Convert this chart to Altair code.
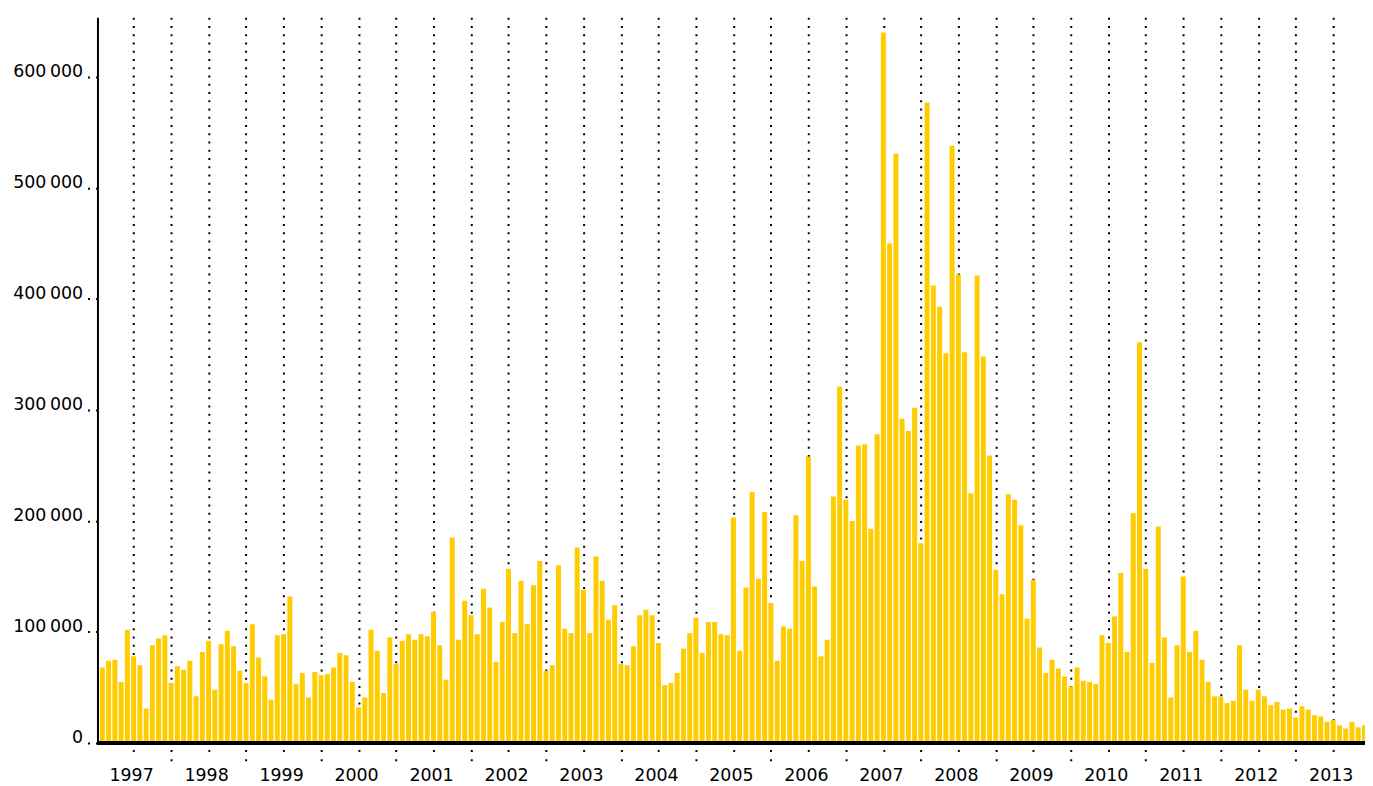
import altair as alt
import pandas as pd

# Monthly values in thousands (first bar = Feb 1997, last = Dec 2013)
first_month_1997 = 2
v1997 = [68, 74, 75, 55, 102, 78, 70, 31, 88, 94, 97]
v1998 = [54, 69, 66, 74, 42, 82, 92, 48, 89, 101, 87, 65]
v1999 = [54, 107, 77, 60, 39, 97, 98, 132, 53, 63, 41, 64]
v2000 = [61, 62, 68, 81, 79, 55, 32, 41, 102, 83, 45, 95]
v2001 = [71, 92, 98, 93, 98, 96, 118, 88, 57, 185, 93, 128]
v2002 = [115, 98, 139, 122, 73, 109, 157, 99, 146, 107, 142, 164]
v2003 = [65, 70, 160, 103, 99, 176, 138, 99, 168, 146, 111, 124]
v2004 = [71, 70, 87, 115, 120, 115, 90, 52, 54, 63, 85, 99]
v2005 = [113, 81, 109, 109, 98, 97, 203, 83, 140, 226, 148, 208]
v2006 = [126, 74, 105, 103, 205, 164, 258, 141, 78, 93, 222, 321]
v2007 = [219, 200, 268, 269, 193, 278, 640, 450, 531, 292, 281, 302]
v2008 = [180, 577, 412, 393, 351, 538, 422, 352, 225, 421, 348, 259]
v2009 = [156, 134, 224, 219, 196, 112, 147, 86, 63, 75, 67, 60]
v2010 = [51, 68, 56, 55, 53, 97, 90, 114, 153, 82, 207, 361]
v2011 = [157, 72, 195, 95, 41, 88, 150, 82, 101, 75, 55, 42]
v2012 = [42, 36, 38, 88, 48, 38, 48, 42, 34, 37, 30, 31]
v2013 = [23, 33, 30, 25, 24, 19, 21, 16, 13, 19, 14, 16]

series = {
    1997: v1997, 1998: v1998, 1999: v1999, 2000: v2000, 2001: v2001,
    2002: v2002, 2003: v2003, 2004: v2004, 2005: v2005, 2006: v2006,
    2007: v2007, 2008: v2008, 2009: v2009, 2010: v2010, 2011: v2011,
    2012: v2012, 2013: v2013,
}

y_ticks = [0, 100000, 200000, 300000, 400000, 500000, 600000]
# half-year tick positions (Jul 1997 ... Jul 2013)
x_ticks = [1997.5 + 0.5 * i for i in range(33)]

rows = []
for year, vals in series.items():
    start = first_month_1997 if year == 1997 else 1
    for k, v in enumerate(vals):
        m = start + k
        rows.append({"t": year + (m - 1) / 12.0, "v": v * 1000})
df = pd.DataFrame(rows)

FONT = "DejaVu Sans"

bars = alt.Chart(df).mark_bar(width=5, color="#FFCC00", clip=True).encode(
    x=alt.X(
        "t:Q",
        scale=alt.Scale(domain=[1997.018, 2013.924], nice=False, zero=False, padding=0),
        axis=alt.Axis(
            values=x_ticks,
            title=None,
            domain=False,
            grid=True,
            gridColor="black",
            gridWidth=2,
            gridDash=[2, 6.3],
            ticks=True,
            tickColor="black",
            tickWidth=2,
            tickDash=[2, 7.5],
            tickDashOffset=3,
            tickSize={"condition": {"test": "datum.value % 1 == 0", "value": 20}, "value": 10},
            labelExpr="datum.value % 1 > 0.25 ? floor(datum.value) : ''",
            labelFont=FONT,
            labelFontSize=17.5,
            labelColor="black",
            labelBaseline="alphabetic",
            labelPadding=28,
            labelOffset=-2.5,
            labelFlush=False,
            labelOverlap=False,
        ),
    ),
    y=alt.Y(
        "v:Q",
        scale=alt.Scale(domain=[0, 653700], nice=False, padding=0),
        axis=alt.Axis(
            values=y_ticks,
            title=None,
            grid=False,
            domain=True,
            domainColor="black",
            domainWidth=2,
            ticks=True,
            tickColor="black",
            tickWidth=2,
            tickSize=10,
            tickDash=[2, 6],
            labelExpr="replace(format(datum.value, ','), ',', '\u2009')",
            labelFont=FONT,
            labelFontSize=17.5,
            labelColor="black",
            labelBaseline="alphabetic",
            labelPadding=5,
            labelFlush=False,
        ),
    ),
)

baseline = alt.Chart(df).mark_rule(color="black", strokeWidth=3).encode(
    y=alt.datum(0)
)

chart = alt.layer(bars, baseline).properties(
    width=1275,
    height=730,
    autosize=alt.AutoSizeParams(type="none"),
    padding={"left": 90, "top": 7, "right": 0, "bottom": 40},
).configure_view(stroke=None)

chart.save("out.html", embed_options={"renderer": "svg", "actions": False})
